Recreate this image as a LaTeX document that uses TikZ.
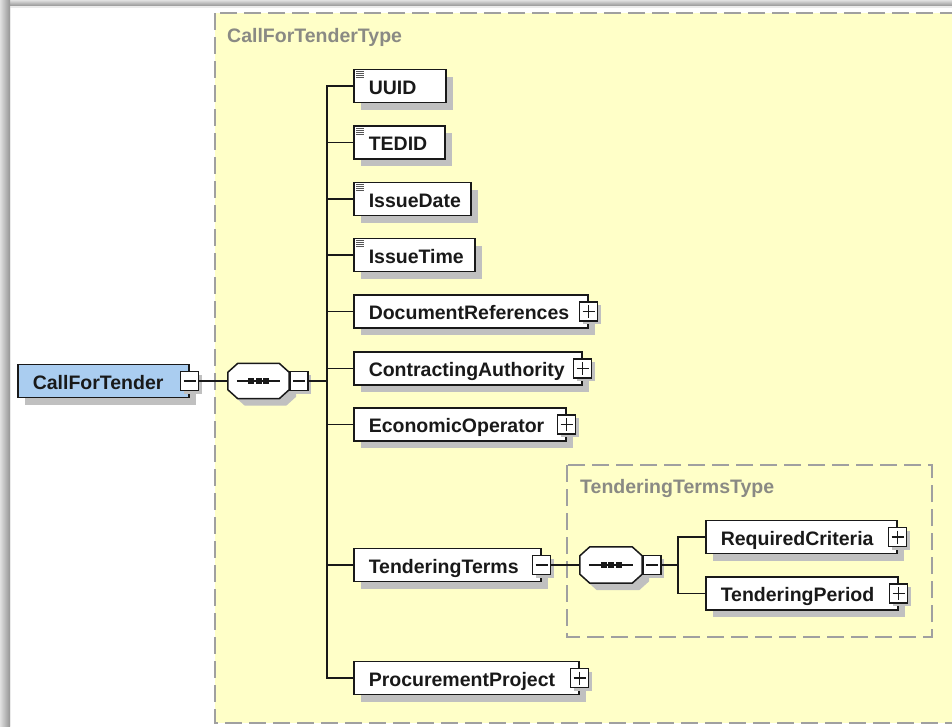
\documentclass[tikz,border=0pt]{standalone}
\usepackage{fontspec}
\setmainfont{Liberation Sans}
\usetikzlibrary{shadows,calc}

\definecolor{typebg}{RGB}{255,255,200}
\definecolor{typeline}{RGB}{160,160,160}
\definecolor{typetext}{RGB}{138,138,132}
\definecolor{rootfill}{RGB}{170,205,240}
\definecolor{shadowgray}{RGB}{192,192,192}
\definecolor{inkdark}{RGB}{25,25,25}
\definecolor{doclines}{RGB}{85,85,85}

\newcommand\diagfont{\fontsize{19.5}{22}\selectfont\bfseries}

% octagonal "sequence" compositor outline around a named anchor box,
% shifted by (#2,#3), painted with options #4
\newcommand\octagon[4]{%
  \path[#4]
    ($(#1.north west)+(10+#2,0+#3)$) -- ($(#1.north east)+(-10+#2,0+#3)$) --
    ($(#1.north east)+(0+#2,9+#3)$)  -- ($(#1.south east)+(0+#2,-9+#3)$) --
    ($(#1.south east)+(-10+#2,0+#3)$) -- ($(#1.south west)+(10+#2,0+#3)$) --
    ($(#1.south west)+(0+#2,-9+#3)$) -- ($(#1.north west)+(0+#2,9+#3)$) -- cycle;}

% full sequence glyph: shadow, outline, bar with three dots
\newcommand\seqglyph[1]{%
  \octagon{#1}{7}{7}{fill=shadowgray}
  \octagon{#1}{0}{0}{fill=white, draw=inkdark, line width=1.5pt}
  \draw[line width=1.4pt, inkdark] ($(#1.west)+(9,0)$) -- ($(#1.east)+(-9,0)$);
  \foreach \dx in {-7.5,0,7.5}
    \fill[inkdark] ($(#1.center)+(\dx-3,-3.3)$) rectangle ($(#1.center)+(\dx+3,3.3)$);}

% small "documentation" lines in the corner of simple-type elements
\newcommand\docmark[1]{%
  \foreach \k in {3,5,7,9}
    \draw[doclines, line width=1.1pt] ($(#1.north west)+(3,\k)$) -- ++(8,0);}

\begin{document}
\begin{tikzpicture}[x=1pt, y=-1pt,
  conn/.style={draw=inkdark, line width=1.4pt},
  boxshadow/.style={general shadow={fill=shadowgray, shadow xshift=7pt, shadow yshift=-7pt}},
  elem/.style={draw=inkdark, line width=1.5pt, fill=white, anchor=west,
    font=\diagfont, text=inkdark, text width=#1, align=left,
    inner xsep=15pt, inner ysep=8pt, text height=16.5pt, text depth=0.5pt,
    boxshadow, execute at begin node={\hyphenpenalty=10000}},
  rootelem/.style={elem=#1, fill=rootfill},
  expander/.style={draw=inkdark, line width=1.3pt, fill=white,
    minimum width=18pt, minimum height=19pt, inner sep=0pt,
    general shadow={fill=shadowgray, shadow xshift=3pt, shadow yshift=-3pt}},
  minusmark/.style={expander, path picture={
    \draw[line width=1.2pt, inkdark] ([xshift=3pt]path picture bounding box.west) -- ([xshift=-3pt]path picture bounding box.east);}},
  plusmark/.style={expander, path picture={
    \draw[line width=1.2pt, inkdark] ([xshift=3pt]path picture bounding box.west) -- ([xshift=-3pt]path picture bounding box.east);
    \draw[line width=1.2pt, inkdark] ([yshift=-3pt]path picture bounding box.north) -- ([yshift=3pt]path picture bounding box.south);}},
  seqanchor/.style={draw=none, inner sep=0pt, minimum width=#1},
  typebox/.style={draw=typeline, fill=typebg, line width=2pt, dash pattern=on 17pt off 7pt},
  typelabel/.style={font=\diagfont, text=typetext, inner sep=0pt, anchor=base west}
]
\useasboundingbox (0,0) rectangle (952,726);
\clip (0,0) rectangle (952,726);

% window frame and page
\fill[white] (0,0) rectangle (952,726);
\shade[top color=black!12, bottom color=black!42] (0,0) rectangle (952,6);
\fill[black!8] (0,6) rectangle (952,8);
\shade[left color=black!12, right color=black!42] (0,0) rectangle (10,726);
\fill[black!8] (10,8) rectangle (11,726);

% complex type regions
\draw[typebox] (215,13) rectangle (980,723);
\node[typelabel] (outerlabel) at (227,42) {CallForTenderType};
\draw[typebox] (567,465) rectangle (932,637);
\node[typelabel] (innerlabel) at (580,493) {TenderingTermsType};

% root element
\node[rootelem=141] (cft) at (17,381) {CallForTender};
\node[minusmark] (cftX) at (cft.east) {};

% sequence of CallForTenderType
\node[seqanchor=61pt, minimum height=35pt] (seq1) at (258.5,381) {};
\seqglyph{seq1}
\node[minusmark, anchor=west] (seq1X) at (seq1.east) {};
\coordinate (fork1) at (327,381);

% child elements
\node[elem=62]  (uuid)      at (353,86)    {UUID};
\node[elem=61]  (tedid)     at (353,142.5) {TEDID};
\node[elem=87]  (issuedate) at (353,199)   {IssueDate};
\node[elem=91]  (issuetime) at (353,255)   {IssueTime};
\node[elem=204] (docrefs)   at (353,311.5) {DocumentReferences};
\node[elem=198] (contract)  at (353,368.5) {ContractingAuthority};
\node[elem=182] (econ)      at (353,424.5) {EconomicOperator};
\node[elem=157] (tterms)    at (353,565)   {TenderingTerms};
\node[elem=195] (procproj)  at (353,678)   {ProcurementProject};

\docmark{uuid}
\docmark{tedid}
\docmark{issuedate}
\docmark{issuetime}

\node[plusmark]  (docrefsX)  at (docrefs.east)  {};
\node[plusmark]  (contractX) at (contract.east) {};
\node[plusmark]  (econX)     at (econ.east)     {};
\node[minusmark] (ttermsX)   at (tterms.east)   {};
\node[plusmark]  (procprojX) at (procproj.east) {};

% sequence of TenderingTermsType
\node[seqanchor=62pt, minimum height=36pt] (seq2) at (611,565) {};
\seqglyph{seq2}
\node[minusmark, anchor=west] (seq2X) at (seq2.east) {};
\coordinate (fork2) at (678,565);

\node[elem=161] (reqcrit) at (705,537)   {RequiredCriteria};
\node[elem=162] (tperiod) at (705,593.5) {TenderingPeriod};
\node[plusmark] (reqcritX) at (reqcrit.east) {};
\node[plusmark] (tperiodX) at (tperiod.east) {};

% connectors
\draw[conn] (cftX.east) -- (seq1.west);
\draw[conn] (seq1X.east) -- (fork1);
\foreach \c in {uuid,tedid,issuedate,issuetime,docrefs,contract,econ,tterms,procproj}
  \draw[conn] (fork1) |- (\c.west);
\draw[conn] (ttermsX.east) -- (seq2.west);
\draw[conn] (seq2X.east) -- (fork2);
\foreach \c in {reqcrit,tperiod}
  \draw[conn] (fork2) |- (\c.west);
\end{tikzpicture}
\end{document}
